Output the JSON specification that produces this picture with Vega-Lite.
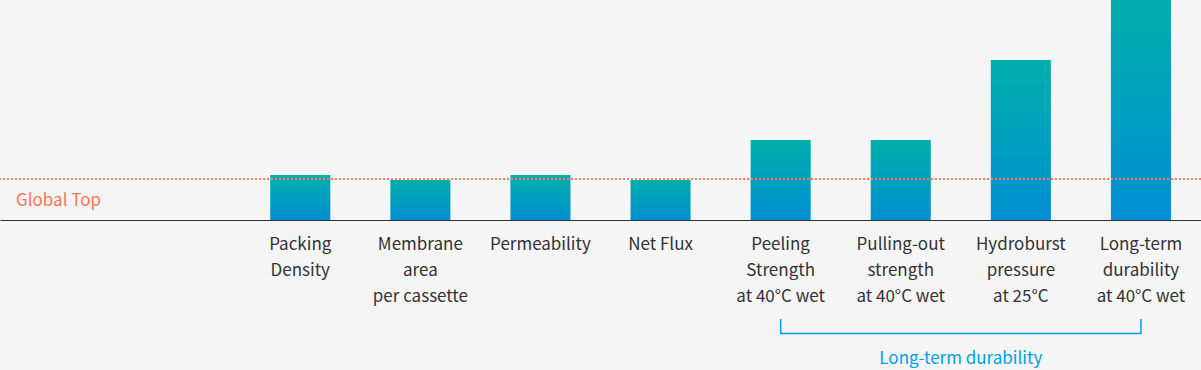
{
  "$schema": "https://vega.github.io/schema/vega-lite/v6.json",
  "width": 1201,
  "height": 220,
  "autosize": {"type": "none"},
  "padding": {"left": 0, "top": 0, "right": 0, "bottom": 150},
  "background": "#f5f5f5",
  "config": {"view": {"stroke": null}, "font": "Noto Sans CJK KR"},
  "datasets": {
    "bars": [
      {"item": "Packing\nDensity", "value": 45},
      {"item": "Membrane\narea\nper cassette", "value": 40},
      {"item": "Permeability", "value": 45},
      {"item": "Net Flux", "value": 40},
      {"item": "Peeling\nStrength\nat 40°C wet", "value": 80},
      {"item": "Pulling-out\nstrength\nat 40°C wet", "value": 80},
      {"item": "Hydroburst\npressure\nat 25°C", "value": 160},
      {"item": "Long-term\ndurability\nat 40°C wet", "value": 222}
    ],
    "globalTop": [{"level": 41}],
    "globalTopLabel": [{"item": "pad1", "y": 14, "label": "Global Top"}],
    "bracket": [
      {"item": "Peeling\nStrength\nat 40°C wet", "y": -99, "order": 1},
      {"item": "Peeling\nStrength\nat 40°C wet", "y": -113.5, "order": 2},
      {"item": "Long-term\ndurability\nat 40°C wet", "y": -113.5, "order": 3},
      {"item": "Long-term\ndurability\nat 40°C wet", "y": -99, "order": 4}
    ],
    "groupLabel": [{"item": "Pulling-out\nstrength\nat 40°C wet", "y": -144, "label": "Long-term durability"}]
  },
  "layer": [
    {
      "data": {"name": "bars"},
      "mark": {
        "type": "bar",
        "color": {
          "gradient": "linear", "x1": 0, "y1": 0, "x2": 0, "y2": 1,
          "stops": [{"offset": 0, "color": "#00aeaa"}, {"offset": 1, "color": "#008fd3"}]
        }
      },
      "encoding": {
        "x": {
          "field": "item", "type": "nominal", "sort": null,
          "scale": {
            "domain": ["pad1", "pad2", "Packing\nDensity", "Membrane\narea\nper cassette", "Permeability", "Net Flux", "Peeling\nStrength\nat 40°C wet", "Pulling-out\nstrength\nat 40°C wet", "Hydroburst\npressure\nat 25°C", "Long-term\ndurability\nat 40°C wet"],
            "paddingInner": 0.5, "paddingOuter": 0.25
          },
          "axis": {
            "title": null, "domainColor": "#333333", "domainWidth": 1, "ticks": false,
            "labelAngle": 0, "labelFontSize": 17, "labelColor": "#333333",
            "labelLineHeight": 26, "labelPadding": 16, "labelBaseline": "top",
            "labelFont": "Noto Sans CJK KR", "labelOverlap": false, "labelLimit": 300,
            "labelExpr": "indexof(datum.value,'pad')==0 ? '' : split(datum.value,'\\n')"
          }
        },
        "y": {"field": "value", "type": "quantitative", "scale": {"domain": [0, 220], "nice": false}, "axis": null}
      }
    },
    {
      "data": {"name": "globalTop"},
      "mark": {"type": "rule", "color": "#ff7a5c", "strokeWidth": 2, "strokeDash": [2, 2]},
      "encoding": {
        "y": {"field": "level", "type": "quantitative", "scale": {"domain": [0, 220], "nice": false}}
      }
    },
    {
      "data": {"name": "globalTopLabel"},
      "mark": {"type": "text", "align": "left", "baseline": "alphabetic", "dx": -14, "fontSize": 17, "color": "#ff7355"},
      "encoding": {
        "x": {"field": "item", "type": "nominal", "bandPosition": 0},
        "y": {"field": "y", "type": "quantitative", "scale": {"domain": [0, 220], "nice": false}},
        "text": {"field": "label"}
      }
    },
    {
      "data": {"name": "bracket"},
      "mark": {"type": "line", "color": "#00a0e9", "strokeWidth": 1.5},
      "encoding": {
        "x": {"field": "item", "type": "nominal"},
        "y": {"field": "y", "type": "quantitative", "scale": {"domain": [0, 220], "nice": false}},
        "order": {"field": "order", "type": "quantitative"}
      }
    },
    {
      "data": {"name": "groupLabel"},
      "mark": {"type": "text", "align": "center", "baseline": "alphabetic", "fontSize": 17, "color": "#00a0e9"},
      "encoding": {
        "x": {"field": "item", "type": "nominal", "bandPosition": 1.5},
        "y": {"field": "y", "type": "quantitative", "scale": {"domain": [0, 220], "nice": false}},
        "text": {"field": "label"}
      }
    }
  ]
}
